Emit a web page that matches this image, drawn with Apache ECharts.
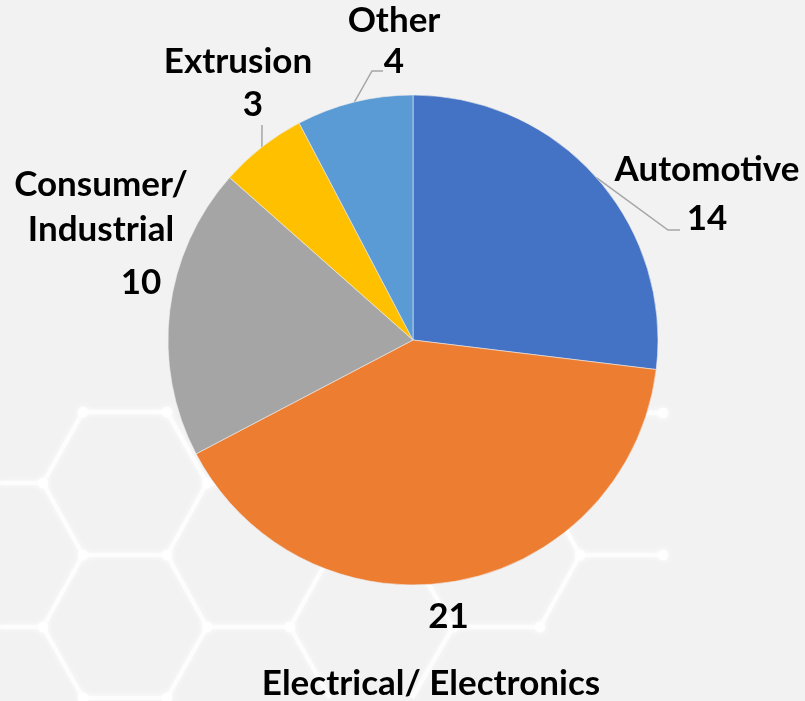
<!DOCTYPE html>
<html>
<head>
<meta charset="utf-8">
<script src="https://cdn.jsdelivr.net/npm/echarts@6/dist/echarts.min.js"></script>
<style>
  html, body { margin: 0; padding: 0; background: #F2F2F2; }
  #chart { width: 805px; height: 701px; }
</style>
</head>
<body>
<div id="chart"></div>
<script>
// ---- data ----
const categories = ['Automotive', 'Electrical/ Electronics', 'Consumer/\nIndustrial', 'Extrusion', 'Other'];
const values = [14, 21, 10, 3, 4];
const colors = ['#4472C4', '#ED7D31', '#A5A5A5', '#FFC000', '#5B9BD5'];

// ---- label layout (text placement, not data) ----
const labelPlacement = [
  { x: 707, y: 196, valueFirst: false, nLH: 46, vLH: 52, vPad: 0, line: [[668, 230], [680, 230]] },
  { x: 431, y: 650, valueFirst: true, nLH: 67, vLH: 67, vPad: 35, line: null },
  { x: 101, y: 237, valueFirst: false, nLH: 45.5, vLH: 59.5, vPad: 80, line: null },
  { x: 238, y: 83, valueFirst: false, nLH: 43.5, vLH: 43.5, vPad: 30, line: [[262, 125], [262, 125]] },
  { x: 394, y: 41, valueFirst: false, nLH: 41, vLH: 41, vPad: 0, line: [[372, 71], [383, 71]] }
];

const CX = 413, CY = 340, R = 245;
const FONT = 'Lato';
const FS = 35;

// ---- background honeycomb decoration ----
const hexEdges = [
  [[0,483],[43,483]], [[43,483],[83,412]], [[83,412],[167,412]], [[167,412],[207,483]],
  [[207,483],[290,483]], [[43,483],[83,555]], [[83,555],[167,555]], [[167,555],[207,483]],
  [[0,627],[43,627]], [[43,627],[83,555]], [[167,555],[207,627]], [[43,627],[83,698]],
  [[207,627],[167,698]], [[83,698],[167,698]], [[207,627],[290,627]], [[290,627],[330,555]],
  [[290,627],[330,698]],
  [[412,555],[453,627]], [[453,627],[540,627]], [[453,627],[412,698]], [[540,627],[580,555]],
  [[580,555],[663,555]], [[580,555],[540,483]], [[620,413],[663,413]]
];
const hexDots = [[43,483],[83,412],[167,412],[207,483],[83,555],[167,555],[43,627],[207,627],
  [290,627],[83,698],[167,698],[453,627],[540,627],[580,555],[663,555],[663,413]];
const graphics = [];
hexEdges.forEach(e => graphics.push({
  type: 'line', silent: true, z: -10,
  shape: { x1: e[0][0], y1: e[0][1], x2: e[1][0], y2: e[1][1] },
  style: { stroke: '#FFFFFF', lineWidth: 4.5, opacity: 0.75, shadowBlur: 6, shadowColor: 'rgba(255,255,255,0.9)' }
}));
hexDots.forEach(d => graphics.push({
  type: 'circle', silent: true, z: -9,
  shape: { cx: d[0], cy: d[1], r: 5.5 },
  style: { fill: '#FFFFFF', opacity: 0.85, shadowBlur: 8, shadowColor: '#FFFFFF' }
}));

const total = values.reduce((a, b) => a + b, 0);
function edgePoint(idx) {
  let before = 0;
  for (let i = 0; i < idx; i++) before += values[i];
  const mid = (before + values[idx] / 2) / total * Math.PI * 2;
  return [CX + R * Math.sin(mid), CY - R * Math.cos(mid)];
}

const seriesData = categories.map((name, i) => {
  const lp = labelPlacement[i];
  return {
    name: name,
    value: values[i],
    itemStyle: { color: colors[i] },
    labelLine: { show: !!lp.line },
    label: {
      rich: {
        n: { fontFamily: FONT, fontWeight: 'bold', fontSize: FS, color: '#000', lineHeight: lp.nLH, align: 'center' },
        v: { fontFamily: FONT, fontWeight: 'bold', fontSize: FS, color: '#000', lineHeight: lp.vLH, padding: [0, 0, 0, lp.vPad], align: 'center' }
      }
    }
  };
});

const chart = echarts.init(document.getElementById('chart'), null, { renderer: 'canvas' });
chart.setOption({
  backgroundColor: '#F2F2F2',
  animation: false,
  graphic: graphics,
  series: [{
    type: 'pie',
    center: [CX, CY],
    radius: R,
    startAngle: 90,
    clockwise: true,
    avoidLabelOverlap: false,
    data: seriesData,
    itemStyle: { borderWidth: 0.6, borderColor: '#EDEDED' },
    label: {
      show: true,
      position: 'outside',
      formatter: function (p) {
        const lp = labelPlacement[p.dataIndex];
        const nameLines = p.name.split('\n').map(s => '{n|' + s + '}').join('\n');
        const v = '{v|' + p.value + '}';
        return lp.valueFirst ? v + '\n' + nameLines : nameLines + '\n' + v;
      }
    },
    labelLine: {
      show: true,
      lineStyle: { color: '#A6A6A6', width: 1.5 }
    },
    labelLayout: function (params) {
      const i = params.dataIndex;
      const lp = labelPlacement[i];
      const out = { x: lp.x, y: lp.y, align: 'center', verticalAlign: 'middle' };
      if (lp.line) {
        const start = edgePoint(i);
        out.labelLinePoints = [start, lp.line[0], lp.line[1]];
      }
      return out;
    }
  }]
});
</script>
</body>
</html>
